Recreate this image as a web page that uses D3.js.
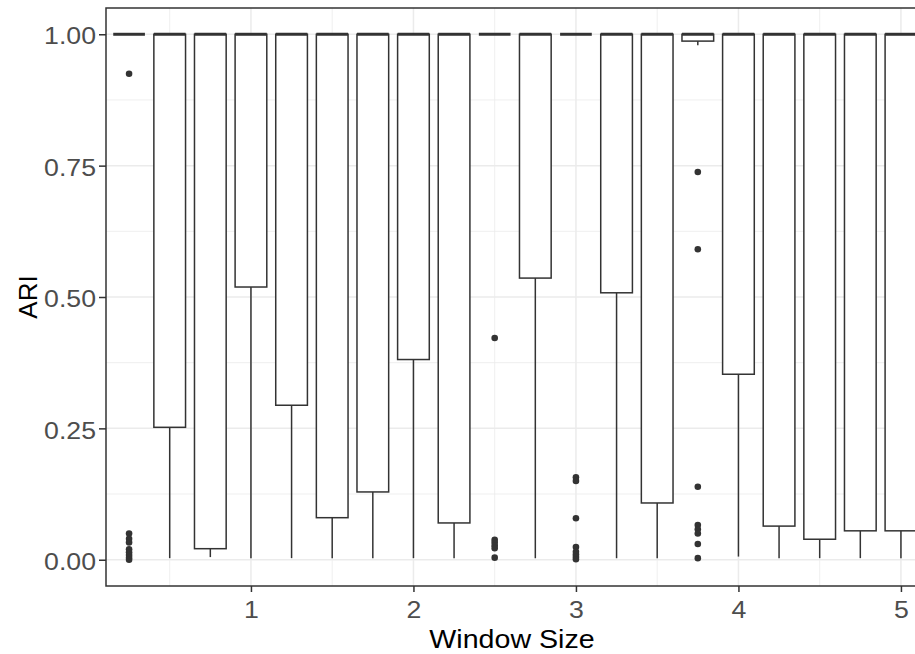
<!DOCTYPE html>
<html>
<head>
<meta charset="utf-8">
<script src="https://cdn.jsdelivr.net/npm/d3@7"></script>
<style>
  body { margin: 0; background: #ffffff; }
  svg { display: block; }
</style>
</head>
<body>
<svg id="chart" width="915" height="654"></svg>
<script>
// Boxplot summaries of ARI per window size
const windowSize   = [0.25, 0.5, 0.75, 1.0, 1.25, 1.5, 1.75, 2.0, 2.25, 2.5,
                      2.75, 3.0, 3.25, 3.5, 3.75, 4.0, 4.25, 4.5, 4.75, 5.0];
const lowerWhisker = [1, 0.003, 0.005, 0.003, 0.003, 0.003, 0.003, 0.003, 0.003, 1,
                      0.003, 1, 0.003, 0.003, 0.979, 0.006, 0.003, 0.003, 0.003, 0.003];
const q1           = [1, 0.252, 0.021, 0.519, 0.294, 0.080, 0.129, 0.381, 0.070, 1,
                      0.536, 1, 0.508, 0.108, 0.987, 0.353, 0.064, 0.039, 0.055, 0.055];
const median       = [1, 1, 1, 1, 1, 1, 1, 1, 1, 1, 1, 1, 1, 1, 1, 1, 1, 1, 1, 1];
const q3           = [1, 1, 1, 1, 1, 1, 1, 1, 1, 1, 1, 1, 1, 1, 1, 1, 1, 1, 1, 1];
const upperWhisker = [1, 1, 1, 1, 1, 1, 1, 1, 1, 1, 1, 1, 1, 1, 1, 1, 1, 1, 1, 1];
const outliers = [
  [0.925, 0.050, 0.040, 0.033, 0.020, 0.014, 0.009, 0.004, 0.000],
  [], [], [], [], [], [], [], [],
  [0.422, 0.038, 0.033, 0.027, 0.022, 0.004],
  [],
  [0.157, 0.150, 0.079, 0.024, 0.015, 0.010, 0.005, 0.001],
  [], [],
  [0.738, 0.591, 0.139, 0.066, 0.058, 0.050, 0.030, 0.003],
  [], [], [], [], []
];
const xTicks = [1, 2, 3, 4, 5];
const xMinor = [0.5, 1.5, 2.5, 3.5, 4.5];
const yTicks = [0, 0.25, 0.5, 0.75, 1];
const yMinor = [0.125, 0.375, 0.625, 0.875];

const panel = { left: 106, right: 918, top: 8, bottom: 586 };
const boxWidth = 0.195;
const ink = "#333333";
const font = "'Liberation Sans', Arial, sans-serif";
const stretch = 1.16;

const svg = d3.select("#chart");

const x = d3.scaleLinear().domain([0.108, 5.105]).range([panel.left, panel.right]);
const y = d3.scaleLinear().domain([-0.05, 1.05]).range([panel.bottom, panel.top]);

svg.append("defs").append("clipPath").attr("id", "panel-clip")
  .append("rect")
  .attr("x", panel.left).attr("y", panel.top)
  .attr("width", panel.right - panel.left).attr("height", panel.bottom - panel.top);

// grid lines
const grid = svg.append("g").attr("clip-path", "url(#panel-clip)");
grid.selectAll(".ymin").data(yMinor).join("line")
  .attr("x1", panel.left).attr("x2", panel.right)
  .attr("y1", d => y(d)).attr("y2", d => y(d))
  .attr("stroke", "#EBEBEB").attr("stroke-width", 0.8);
grid.selectAll(".xmin").data(xMinor).join("line")
  .attr("y1", panel.top).attr("y2", panel.bottom)
  .attr("x1", d => x(d)).attr("x2", d => x(d))
  .attr("stroke", "#EBEBEB").attr("stroke-width", 0.8);
grid.selectAll(".ymaj").data(yTicks).join("line")
  .attr("x1", panel.left).attr("x2", panel.right)
  .attr("y1", d => y(d)).attr("y2", d => y(d))
  .attr("stroke", "#EBEBEB").attr("stroke-width", 1.5);
grid.selectAll(".xmaj").data(xTicks).join("line")
  .attr("y1", panel.top).attr("y2", panel.bottom)
  .attr("x1", d => x(d)).attr("x2", d => x(d))
  .attr("stroke", "#EBEBEB").attr("stroke-width", 1.5);

// boxes
const boxes = windowSize.map((w, i) => ({
  w, lo: lowerWhisker[i], q1: q1[i], med: median[i], q3: q3[i], hi: upperWhisker[i], out: outliers[i]
}));
const plot = svg.append("g").attr("clip-path", "url(#panel-clip)");
const bx = plot.selectAll("g.box").data(boxes).join("g").attr("class", "box");

bx.append("line")
  .attr("x1", d => x(d.w)).attr("x2", d => x(d.w))
  .attr("y1", d => y(d.q1)).attr("y2", d => y(d.lo))
  .attr("stroke", ink).attr("stroke-width", 1.5);
bx.append("line")
  .attr("x1", d => x(d.w)).attr("x2", d => x(d.w))
  .attr("y1", d => y(d.q3)).attr("y2", d => y(d.hi))
  .attr("stroke", ink).attr("stroke-width", 1.5);
bx.append("rect")
  .attr("x", d => x(d.w - boxWidth / 2))
  .attr("width", d => x(d.w + boxWidth / 2) - x(d.w - boxWidth / 2))
  .attr("y", d => y(d.q3))
  .attr("height", d => y(d.q1) - y(d.q3))
  .attr("fill", "#ffffff").attr("stroke", ink).attr("stroke-width", 1.5);
bx.append("line")
  .attr("x1", d => x(d.w - boxWidth / 2)).attr("x2", d => x(d.w + boxWidth / 2))
  .attr("y1", d => y(d.med)).attr("y2", d => y(d.med))
  .attr("stroke", ink).attr("stroke-width", 3);

bx.selectAll("circle").data(d => d.out.map(v => ({ w: d.w, v }))).join("circle")
  .attr("cx", d => x(d.w)).attr("cy", d => y(d.v)).attr("r", 3.3)
  .attr("fill", ink);

// panel border
svg.append("rect")
  .attr("x", panel.left).attr("y", panel.top)
  .attr("width", panel.right - panel.left).attr("height", panel.bottom - panel.top)
  .attr("fill", "none").attr("stroke", ink).attr("stroke-width", 1.5);

// axes
const yTickLen = 7, yPad = 3;
const yAxis = svg.append("g").attr("transform", `translate(${panel.left},0)`)
  .call(d3.axisLeft(y).tickValues(yTicks).tickFormat(d3.format(".2f"))
        .tickSize(yTickLen).tickPadding(yPad));
yAxis.select(".domain").remove();
yAxis.selectAll(".tick line").attr("stroke", ink).attr("stroke-width", 1.5);
yAxis.selectAll(".tick text")
  .attr("font-family", font).attr("font-size", 23).attr("fill", "#4D4D4D")
  .attr("x", -(yTickLen + yPad) / stretch).attr("dy", "0.42em")
  .attr("transform", `scale(${stretch},1)`);

const xTickLen = 6, xPad = 10;
const xAxis = svg.append("g").attr("transform", `translate(0,${panel.bottom})`)
  .call(d3.axisBottom(x).tickValues(xTicks).tickFormat(d3.format("d"))
        .tickSize(xTickLen).tickPadding(xPad));
xAxis.select(".domain").remove();
xAxis.selectAll(".tick line").attr("stroke", ink).attr("stroke-width", 1.5);
xAxis.selectAll(".tick text")
  .attr("font-family", font).attr("font-size", 23).attr("fill", "#4D4D4D")
  .attr("transform", `scale(${stretch},1)`);

// axis titles
svg.append("text")
  .attr("transform", `translate(${(panel.left + panel.right) / 2},648) scale(1.1,1)`)
  .attr("text-anchor", "middle")
  .attr("font-family", font).attr("font-size", 26).attr("fill", "#000")
  .text("Window Size");
svg.append("text")
  .attr("transform", `translate(37,${(panel.top + panel.bottom) / 2}) rotate(-90)`)
  .attr("text-anchor", "middle")
  .attr("font-family", font).attr("font-size", 26).attr("fill", "#000")
  .text("ARI");
</script>
</body>
</html>
